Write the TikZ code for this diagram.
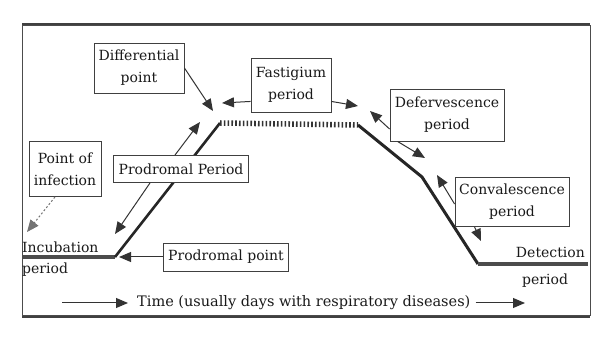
\documentclass[tikz,border=0pt]{standalone}
\usepackage{fontspec}
\setmainfont{DejaVu Serif}
\usetikzlibrary{arrows.meta,calc}
\begin{document}
\begin{tikzpicture}[x=1pt,y=-1pt,
  lbl/.style={draw=black!75, line width=0.9pt, fill=white, align=center,
    font=\fontsize{14}{22}\selectfont, inner sep=1pt, text=black!90},
  txt/.style={inner sep=0pt, font=\fontsize{14}{22}\selectfont, text=black!90},
  ptr/.style={draw=black!80, line width=1pt, -{Triangle[length=12pt,width=10pt]}},
  dotptr/.style={ptr, draw=black!55, dash pattern=on 2pt off 2pt},
  curve/.style={draw=black!85, line width=2.6pt},
  flat/.style={draw=black!70, line width=4pt},
  plateau/.style={draw=black!80, line width=5.5pt, dash pattern=on 1.6pt off 2.2pt}]
\useasboundingbox (0,0) rectangle (595,344);
% frame
\draw[line width=1pt, black!70] (22,26) rectangle (590,316);
\draw[line width=2.5pt, black!75] (22,24) -- (590,24);
\draw[line width=2.5pt, black!75] (22,317) -- (590,317);
% curve
\coordinate (inc0) at (22,257);
\coordinate (pp) at (115,257);
\coordinate (dpnt) at (220,123);
\coordinate (fend) at (358,125);
\coordinate (bend) at (422,177);
\coordinate (cbot) at (478,264);
\coordinate (dend) at (588,264);
\draw[flat] (inc0) -- (pp);
\draw[curve] (pp) -- (dpnt);
\draw[plateau] (dpnt) -- (fend);
\draw[curve, line width=3pt] (fend) -- (bend) -- (cbot);
\draw[flat] (cbot) -- (dend);
% boxes
\node[lbl, minimum width=90pt, minimum height=50pt] (dp) at (139,68) {Differential\\point};
\node[lbl, minimum width=80pt, minimum height=54pt] (fp) at (291,85) {Fastigium\\period};
\node[lbl, minimum width=114pt, minimum height=52pt] (dfp) at (447,115) {Defervescence\\period};
\node[lbl, minimum width=72pt, minimum height=55pt] (poi) at (65,169) {Point of\\infection};
\node[lbl, minimum width=135pt, minimum height=27pt] (ppd) at (181,169) {Prodromal Period};
\node[lbl, minimum width=125pt, minimum height=28pt] (ppt) at (226,257) {Prodromal point};
\node[lbl, minimum width=114pt, minimum height=49pt] (cp) at (512,202) {Convalescence\\period};
% free texts
\node[txt, anchor=west] (inc) at (22,247) {Incubation};
\node[txt, anchor=west] (incp) at (22,270) {period};
\node[txt, anchor=east] (det) at (585,252) {Detection};
\node[txt, anchor=west] (detp) at (522,281) {period};
\node[txt, anchor=west, font=\fontsize{14.5}{22}\selectfont] (time) at (137,303) {Time (usually days with respiratory diseases)};
% pointer targets
\coordinate (tdp) at (213,111);
\coordinate (tfl) at (222,103);
\coordinate (tfr) at (358,106);
\coordinate (tdu) at (370,111);
\coordinate (tdd) at (425,158);
\coordinate (tcu) at (437,175);
\coordinate (tcd) at (481,241);
\coordinate (tpu) at (200,122);
\coordinate (tpd) at (115,234);
\coordinate (tpp) at (119,257);
\coordinate (tpi) at (27,232);
\coordinate (t0) at (62,303);
\coordinate (t1) at (525,303);
% pointers
\draw[ptr] (dp.east) -- (tdp);
\draw[ptr] ($(fp.south west)+(0,-11)$) -- (tfl);
\draw[ptr] ($(fp.south east)+(0,-11)$) -- (tfr);
\draw[ptr] ($(dfp.west)+(0,14)$) -- (tdu);
\draw[ptr] ($(dfp.south west)+(8,0)$) -- (tdd);
\draw[ptr] ($(cp.west)+(0,2)$) -- (tcu);
\draw[ptr] ($(cp.south west)+(20,0)$) -- (tcd);
\draw[ptr] ($(ppd.north)+(-6,0)$) -- (tpu);
\draw[ptr] ($(ppd.south)+(-31,0)$) -- (tpd);
\draw[ptr] (ppt.west) -- (tpp);
\draw[dotptr] ($(poi.south)+(-10,0)$) -- (tpi);
\draw[ptr, shorten >=9pt] (t0) -- (time.west);
\draw[ptr, shorten <=5pt] (time.east) -- (t1);
\end{tikzpicture}
\end{document}
